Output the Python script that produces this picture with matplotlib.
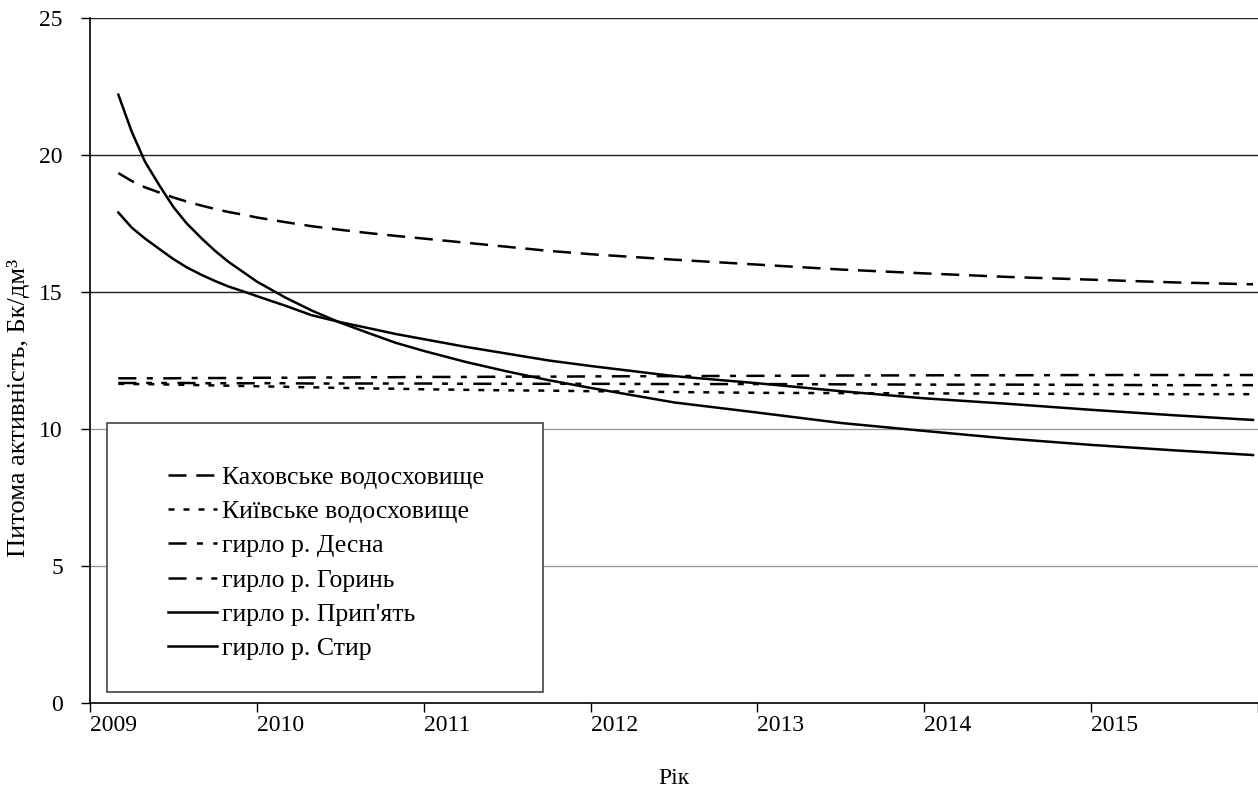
import matplotlib
matplotlib.use("Agg")
import matplotlib.pyplot as plt
from matplotlib.patches import Rectangle
from matplotlib.transforms import ScaledTranslation

plt.rcParams['font.family'] = ['Liberation Serif', 'DejaVu Serif']
plt.rcParams['lines.scale_dashes'] = False

# Time points (fractional years)
years = [2009.17, 2009.25, 2009.33, 2009.42, 2009.5, 2009.58, 2009.67, 2009.75,
         2009.83, 2009.92, 2010.0, 2010.17, 2010.33, 2010.5, 2010.67, 2010.83,
         2011.0, 2011.25, 2011.5, 2011.75, 2012.0, 2012.5, 2013.0, 2013.5,
         2014.0, 2014.5, 2015.0, 2015.5, 2015.97]

kakhovka = [19.34, 19.05, 18.82, 18.62, 18.45, 18.3, 18.15, 18.03,
            17.92, 17.82, 17.72, 17.55, 17.4, 17.27, 17.15, 17.05,
            16.95, 16.8, 16.65, 16.5, 16.38, 16.18, 16.0, 15.82,
            15.68, 15.55, 15.45, 15.35, 15.28]
kyiv = [11.65, 11.64, 11.64, 11.63, 11.62, 11.61, 11.6, 11.59,
        11.58, 11.57, 11.56, 11.54, 11.52, 11.5, 11.48, 11.47,
        11.45, 11.43, 11.41, 11.4, 11.38, 11.35, 11.32, 11.31,
        11.3, 11.29, 11.28, 11.27, 11.27]
desna = [11.85, 11.85, 11.85, 11.85, 11.85, 11.86, 11.86, 11.86,
         11.86, 11.86, 11.87, 11.87, 11.88, 11.88, 11.89, 11.89,
         11.9, 11.9, 11.91, 11.91, 11.92, 11.93, 11.94, 11.95,
         11.96, 11.96, 11.97, 11.97, 11.97]
horyn = [11.68, 11.68, 11.68, 11.68, 11.68, 11.68, 11.67, 11.67,
         11.67, 11.67, 11.67, 11.67, 11.66, 11.66, 11.66, 11.66,
         11.66, 11.65, 11.65, 11.65, 11.65, 11.64, 11.64, 11.63,
         11.62, 11.62, 11.61, 11.6, 11.6]
prypiat = [17.9, 17.35, 16.95, 16.55, 16.2, 15.9, 15.62, 15.4,
           15.2, 15.02, 14.85, 14.5, 14.15, 13.9, 13.68, 13.47,
           13.28, 13.0, 12.75, 12.5, 12.3, 11.93, 11.67, 11.38,
           11.12, 10.92, 10.7, 10.5, 10.33]
styr = [22.2, 20.85, 19.75, 18.85, 18.1, 17.5, 16.95, 16.5,
        16.1, 15.72, 15.38, 14.8, 14.32, 13.88, 13.5, 13.15,
        12.85, 12.45, 12.1, 11.78, 11.5, 10.97, 10.6, 10.22,
        9.93, 9.65, 9.42, 9.22, 9.05]

year_ticks = [2009, 2010, 2011, 2012, 2013, 2014, 2015, 2016]
year_labels = ['2009', '2010', '2011', '2012', '2013', '2014', '2015', '']
y_ticks = [0, 5, 10, 15, 20, 25]

labels = ['Каховське водосховище', 'Київське водосховище', 'гирло р. Десна',
          'гирло р. Горинь', "гирло р. Прип'ять", 'гирло р. Стир']

W, H = 1258, 790
fig = plt.figure(figsize=(W / 100, H / 100), dpi=100)
ax = fig.add_axes([90 / W, 87 / H, (W - 90) / W, (703 - 18) / H])

lw = 1.8
ax.plot(years, kakhovka, color='black', lw=lw, linestyle=(0, (13, 7)), label=labels[0])
ax.plot(years, kyiv, color='black', lw=lw, linestyle=(0, (4.3, 6.5)), label=labels[1])
ax.plot(years, desna, color='black', lw=lw, linestyle=(0, (13, 7.5, 4.3, 7.5)), label=labels[2])
ax.plot(years, horyn, color='black', lw=lw, linestyle=(0, (13, 7, 4.3, 6.5, 4.3, 7.5)), label=labels[3])
ax.plot(years, prypiat, color='black', lw=lw, linestyle='-', label=labels[4])
ax.plot(years, styr, color='black', lw=lw, linestyle='-', label=labels[5])

ax.set_xlim(2009, 2009 + (W - 90) / 167.5)
ax.set_ylim(0, 25)
ax.set_yticks(y_ticks)
ax.set_xticks(year_ticks)
ax.set_xticklabels(year_labels, ha='left')
offset = ScaledTranslation(4 / 100, 0, fig.dpi_scale_trans)
for lab in ax.get_xticklabels():
    lab.set_transform(lab.get_transform() + offset)

ax.tick_params(axis='both', direction='out', length=6.5, width=1, labelsize=17, colors='black')
ax.tick_params(axis='y', pad=13)
ax.tick_params(axis='x', pad=2)

# horizontal gridlines; the lower ones are lighter
for v in [5, 10, 15, 20, 25]:
    c = '#9a9a9a' if v in (5, 10) else '#222222'
    ax.axhline(v, color=c, lw=1, zorder=1)
for tick, v in zip(ax.yaxis.get_major_ticks(), y_ticks):
    if v in (5, 10):
        tick.tick1line.set_color('#9a9a9a')

for s in ['top', 'right']:
    ax.spines[s].set_visible(False)
ax.spines['left'].set_linewidth(1.2)
ax.spines['bottom'].set_linewidth(1.2)

ax.set_xlabel('Рік', fontsize=17)
ax.xaxis.set_label_coords(0.5, -(768 - 703) / 685)
ax.set_ylabel('Питома активність, Бк/дм³', fontsize=19)
ax.yaxis.set_label_coords(-(90 - 30) / 1168, (703 - 408) / 685)

# legend box
box = Rectangle((107 / W, 1 - 692 / H), 436 / W, 269 / H, transform=fig.transFigure,
                facecolor='white', edgecolor='#444444', lw=1.2, zorder=4, clip_on=False)
ax.add_patch(box)
leg = ax.legend(loc='upper left', bbox_to_anchor=(155 / W, 1 - 453 / H),
                bbox_transform=fig.transFigure, frameon=False, fontsize=18.5,
                borderpad=0, handlelength=1.9, handletextpad=0.22, labelspacing=0.44)
leg.set_zorder(5)

fig.savefig('out.png', dpi=100)
